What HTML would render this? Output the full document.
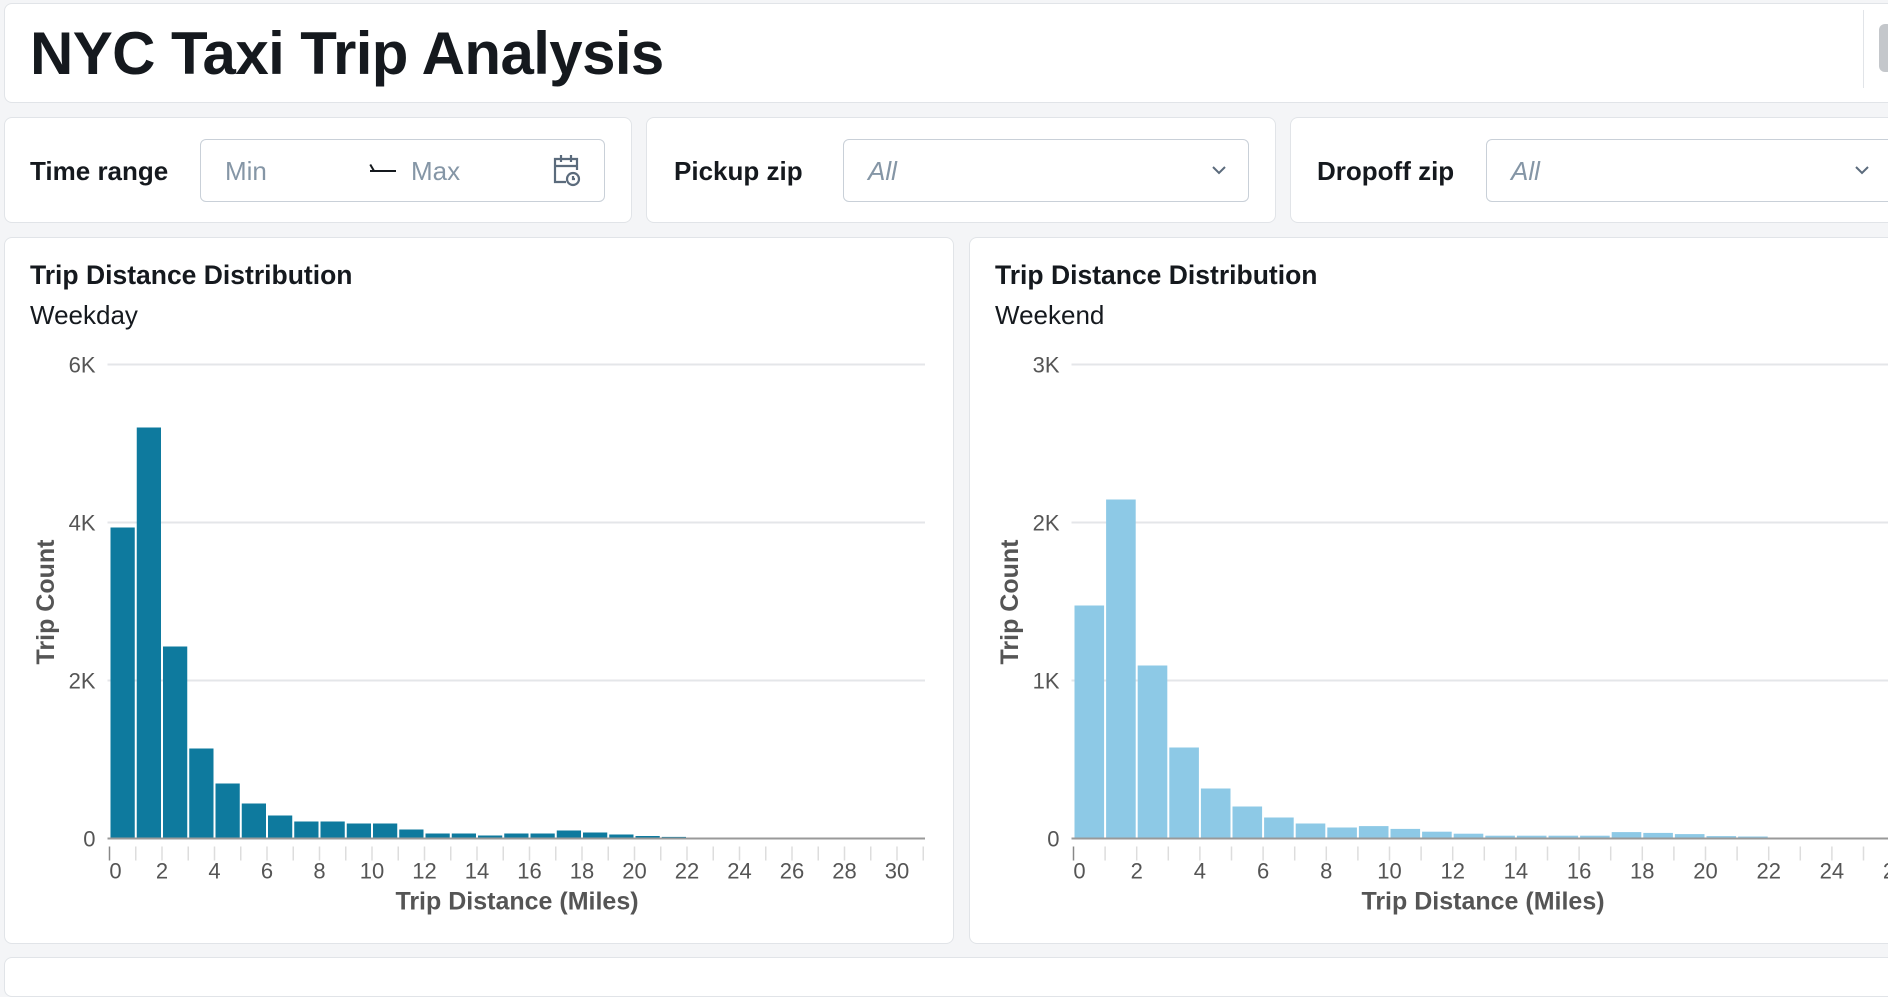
<!DOCTYPE html>
<html><head><meta charset="utf-8"><style>
body{margin:0;width:1888px;height:964px;background:#f4f5f7;position:relative;overflow:hidden;font-family:"Liberation Sans",Arial,sans-serif;color:#15191e}
.card{position:absolute;background:#fff;border:1.5px solid #e1e4e8;border-radius:8px;box-sizing:border-box}
.lbl{position:absolute;font-weight:bold;font-size:26px}
.inp{position:absolute;border:1.5px solid #c9d0d8;border-radius:6px;box-sizing:border-box;background:#fff}
.ph{position:absolute;color:#8596a6;font-size:26px}
</style></head><body>
<div class="card" style="left:4px;top:3px;width:1900px;height:100px"></div>
<div style="position:absolute;left:30px;top:19px;font-size:60px;font-weight:bold;letter-spacing:-0.6px">NYC Taxi Trip Analysis</div>
<div style="position:absolute;left:1863px;top:10px;width:1px;height:78px;background:#e1e4e8"></div>
<div style="position:absolute;left:1879px;top:24px;width:14px;height:48px;background:#c4c7cb;border-radius:6px"></div>

<div class="card" style="left:4px;top:117px;width:628px;height:106px"></div>
<div class="lbl" style="left:30px;top:156px">Time range</div>
<div class="inp" style="left:200px;top:139px;width:405px;height:63px"></div>
<div class="ph" style="left:225px;top:156px">Min</div>
<div style="position:absolute;left:370px;top:170px;width:26px;height:2px;background:#15191e"></div>
<div style="position:absolute;left:371px;top:164px;width:2px;height:7px;background:#15191e;transform:rotate(-30deg)"></div>
<div class="ph" style="left:411px;top:156px">Max</div>
<svg style="position:absolute;left:552px;top:153px" width="30" height="34" viewBox="0 0 30 34" fill="none" stroke="#5b6b7c" stroke-width="2.2"><path d="M14 29H3V6h22v11"/><path d="M3 13h22"/><path d="M9 2v7M19 2v7"/><circle cx="21" cy="26" r="6"/><path d="M21 23v3h2"/></svg>

<div class="card" style="left:646px;top:117px;width:630px;height:106px"></div>
<div class="lbl" style="left:674px;top:156px">Pickup zip</div>
<div class="inp" style="left:843px;top:139px;width:406px;height:63px"></div>
<div class="ph" style="left:868px;top:156px;font-style:italic">All</div>
<svg style="position:absolute;left:1211px;top:164px" width="16" height="12"><path d="M2 3l6 6 6-6" stroke="#5b6b7c" stroke-width="2" fill="none"/></svg>

<div class="card" style="left:1290px;top:117px;width:620px;height:106px"></div>
<div class="lbl" style="left:1317px;top:156px">Dropoff zip</div>
<div class="inp" style="left:1486px;top:139px;width:420px;height:63px"></div>
<div class="ph" style="left:1511px;top:156px;font-style:italic">All</div>
<svg style="position:absolute;left:1854px;top:164px" width="16" height="12"><path d="M2 3l6 6 6-6" stroke="#5b6b7c" stroke-width="2" fill="none"/></svg>

<div class="card" style="left:4px;top:237px;width:950px;height:707px"></div>
<div class="card" style="left:969px;top:237px;width:940px;height:707px"></div>
<div class="card" style="left:4px;top:957px;width:1900px;height:40px"></div>

<div style="position:absolute;left:30px;top:260px;font-size:26.5px;font-weight:bold">Trip Distance Distribution</div>
<div style="position:absolute;left:30px;top:300px;font-size:26px">Weekday</div>
<div style="position:absolute;left:995px;top:260px;font-size:26.5px;font-weight:bold">Trip Distance Distribution</div>
<div style="position:absolute;left:995px;top:300px;font-size:26px">Weekend</div>

<svg id="s" style="position:absolute;left:0;top:0" width="1888" height="964" font-family="Liberation Sans, Arial, sans-serif"></svg>
<script>
var s=document.getElementById('s'),h='';
function chart(x0,step,base,top,labels,heights,col,xend,yt,xt){
  var gy=[0,1,2,3].map(function(i){return base-(base-top)*i/3});
  gy.forEach(function(y,i){ if(i>0)h+='<line x1="'+(x0-2)+'" x2="'+xend+'" y1="'+y+'" y2="'+y+'" stroke="#e4e6e9" stroke-width="2"/>';
    h+='<text x="'+(x0-14)+'" y="'+(y+8)+'" font-size="22" fill="#555" text-anchor="end">'+labels[i]+'</text>';});
  heights.forEach(function(v,i){var x=x0+i*step+1; if(x>1900)return; h+='<rect x="'+x+'" y="'+(base-v)+'" width="'+(step-2)+'" height="'+v+'" fill="'+col+'"/>';});
  h+='<line x1="'+(x0-2)+'" x2="'+xend+'" y1="'+base+'" y2="'+base+'" stroke="#999" stroke-width="2"/>';
  for(var i=0;x0+i*step<=xend+1;i++){var x=x0+i*step;h+='<line x1="'+x+'" x2="'+x+'" y1="'+(base+8)+'" y2="'+(base+22)+'" stroke="'+(i==0?'#888':'#ddd')+'" stroke-width="1.5"/>';
    if(i%2==0)h+='<text x="'+(i==0?x+6:x)+'" y="'+(base+40)+'" font-size="22" fill="#555" text-anchor="middle">'+i+'</text>';}
  h+='<text x="'+xt+'" y="'+(base+71)+'" font-size="25" font-weight="bold" fill="#555" text-anchor="middle">Trip Distance (Miles)</text>';
  h+='<text transform="translate('+yt+',602) rotate(-90)" font-size="25" font-weight="bold" fill="#555" text-anchor="middle">Trip Count</text>';
}
chart(109.5,26.25,838.5,364.5,['0','2K','4K','6K'],[311,411,192,90,55,35,23,17,17,15,15,9,5,5,3,5,5,8,6,4,2.5,1.6,0.8,0.4,0.8,0.4,0.4,0.3,0.3,0.3,0.3],'#0e7a9e',925,54,517);
chart(1073.5,31.6,838.5,364.5,['0','1K','2K','3K'],[233,339,173,91,50,32,21,15,11,12.4,9.6,6.8,4.8,2.8,2.8,2.8,2.8,6.4,5.6,4.4,2.4,2,0.8,0.8,0.8,0.8,0.5],'#8dc9e6',1900,1018,1483);
s.innerHTML=h;
</script>
</body></html>
